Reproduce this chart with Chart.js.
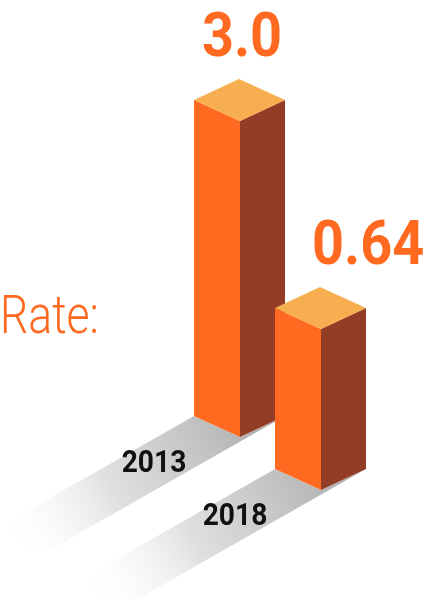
<!DOCTYPE html>
<html>
<head>
<meta charset="utf-8">
<script src="https://cdn.jsdelivr.net/npm/chart.js@4"></script>
<style>
  html, body { margin: 0; padding: 0; background: #fff; }
  #box { width: 425px; height: 599px; }
</style>
</head>
<body>
<div id="box"><canvas id="rateChart" width="425" height="599"></canvas></div>
<script>
// chart data
const years = ['2013', '2018'];
const rates = [3.0, 0.64];
const titleText = 'Rate:';

const ORANGE = '#ff6a20';
const DARK = '#943d26';
const TOP = '#f6ae50';

// isometric box / shadow settings
const SLOPE = 53 / 81;      // bars step down to the right
const LW = 46, RW = 45, RISE = 21;

function condensedText(ctx, text, x, y, font, color, sx, align) {
    ctx.save();
    ctx.font = font;
    ctx.fillStyle = color;
    ctx.textAlign = align || 'center';
    ctx.textBaseline = 'alphabetic';
    ctx.translate(x, y);
    ctx.scale(sx, 1);
    ctx.fillText(text, 0, 0);
    ctx.restore();
}

function poly(ctx, pts, fill) {
    ctx.beginPath();
    ctx.moveTo(pts[0][0], pts[0][1]);
    for (let i = 1; i < pts.length; i++) ctx.lineTo(pts[i][0], pts[i][1]);
    ctx.closePath();
    ctx.fillStyle = fill;
    ctx.fill();
}

const isoBars = {
    id: 'isoBars',
    afterDatasetsDraw(chart) {
        const ctx = chart.ctx;
        const bars = chart.getDatasetMeta(0).data;
        const x0 = bars[0].x;
        const pts = bars.map(b => {
            const dy = (b.x - x0) * SLOPE;
            return { x: b.x, top: b.y + dy, bot: b.base + dy };
        });

        // shadows first
        const dx = -230, dyS = 131;
        pts.forEach(p => {
            const l = [p.x - LW, p.bot - RISE];
            const r = [p.x + RW, p.bot - RISE];
            const mx = (l[0] + r[0]) / 2, my = (l[1] + r[1]) / 2;
            const g = ctx.createLinearGradient(mx, my, mx + dx, my + dyS);
            g.addColorStop(0, 'rgba(175,175,175,0.95)');
            g.addColorStop(0.55, 'rgba(215,215,215,0.8)');
            g.addColorStop(1, 'rgba(255,255,255,0)');
            poly(ctx, [l, [l[0] + dx, l[1] + dyS], [r[0] + dx, r[1] + dyS], r, [p.x, p.bot]], g);
        });

        // boxes
        pts.forEach(p => {
            poly(ctx, [[p.x - LW, p.top - RISE], [p.x, p.top], [p.x, p.bot], [p.x - LW, p.bot - RISE]], ORANGE);
            poly(ctx, [[p.x, p.top], [p.x + RW, p.top - RISE], [p.x + RW, p.bot - RISE], [p.x, p.bot]], DARK);
            poly(ctx, [[p.x, p.top], [p.x - LW, p.top - RISE], [p.x - LW + RW, p.top - 2 * RISE], [p.x + RW, p.top - RISE]], TOP);
        });

        // value labels, pushed clear of the previous bar
        let prevRight = -Infinity;
        pts.forEach((p, i) => {
            const txt = rates[i].toFixed(i === 0 ? 1 : 2);
            ctx.font = 'bold 62px Roboto';
            const w = ctx.measureText(txt).width * 0.9;
            const cx = Math.max(p.x + 2, prevRight + 27 + w / 2);
            condensedText(ctx, txt, cx, p.top - 65, 'bold 62px Roboto', ORANGE, 0.9);
            prevRight = p.x + RW;
        });

        // year labels on the shadows
        pts.forEach((p, i) => {
            condensedText(ctx, chart.data.labels[i], p.x - 86, p.bot + 35, 'bold 32px Roboto', '#111', 0.88);
        });

        // title
        condensedText(ctx, titleText, 0, 333, '300 53px Roboto', ORANGE, 0.84, 'left');
    }
};

var ctx = document.getElementById('rateChart').getContext('2d');
var rateChart = new Chart(ctx, {
    type: 'bar',
    data: {
        labels: years,
        datasets: [{
            data: rates,
            backgroundColor: 'rgba(0,0,0,0)',
            borderWidth: 0
        }]
    },
    options: {
        responsive: false,
        animation: false,
        devicePixelRatio: 1,
        layout: { padding: { top: 121, bottom: 162, left: 199.5, right: 63.5 } },
        scales: {
            x: { display: false },
            y: { type: 'logarithmic', display: false, min: 0.1287, max: 3.0 }
        },
        plugins: { legend: { display: false }, tooltip: { enabled: false } }
    },
    plugins: [isoBars]
});
</script>
</body>
</html>
